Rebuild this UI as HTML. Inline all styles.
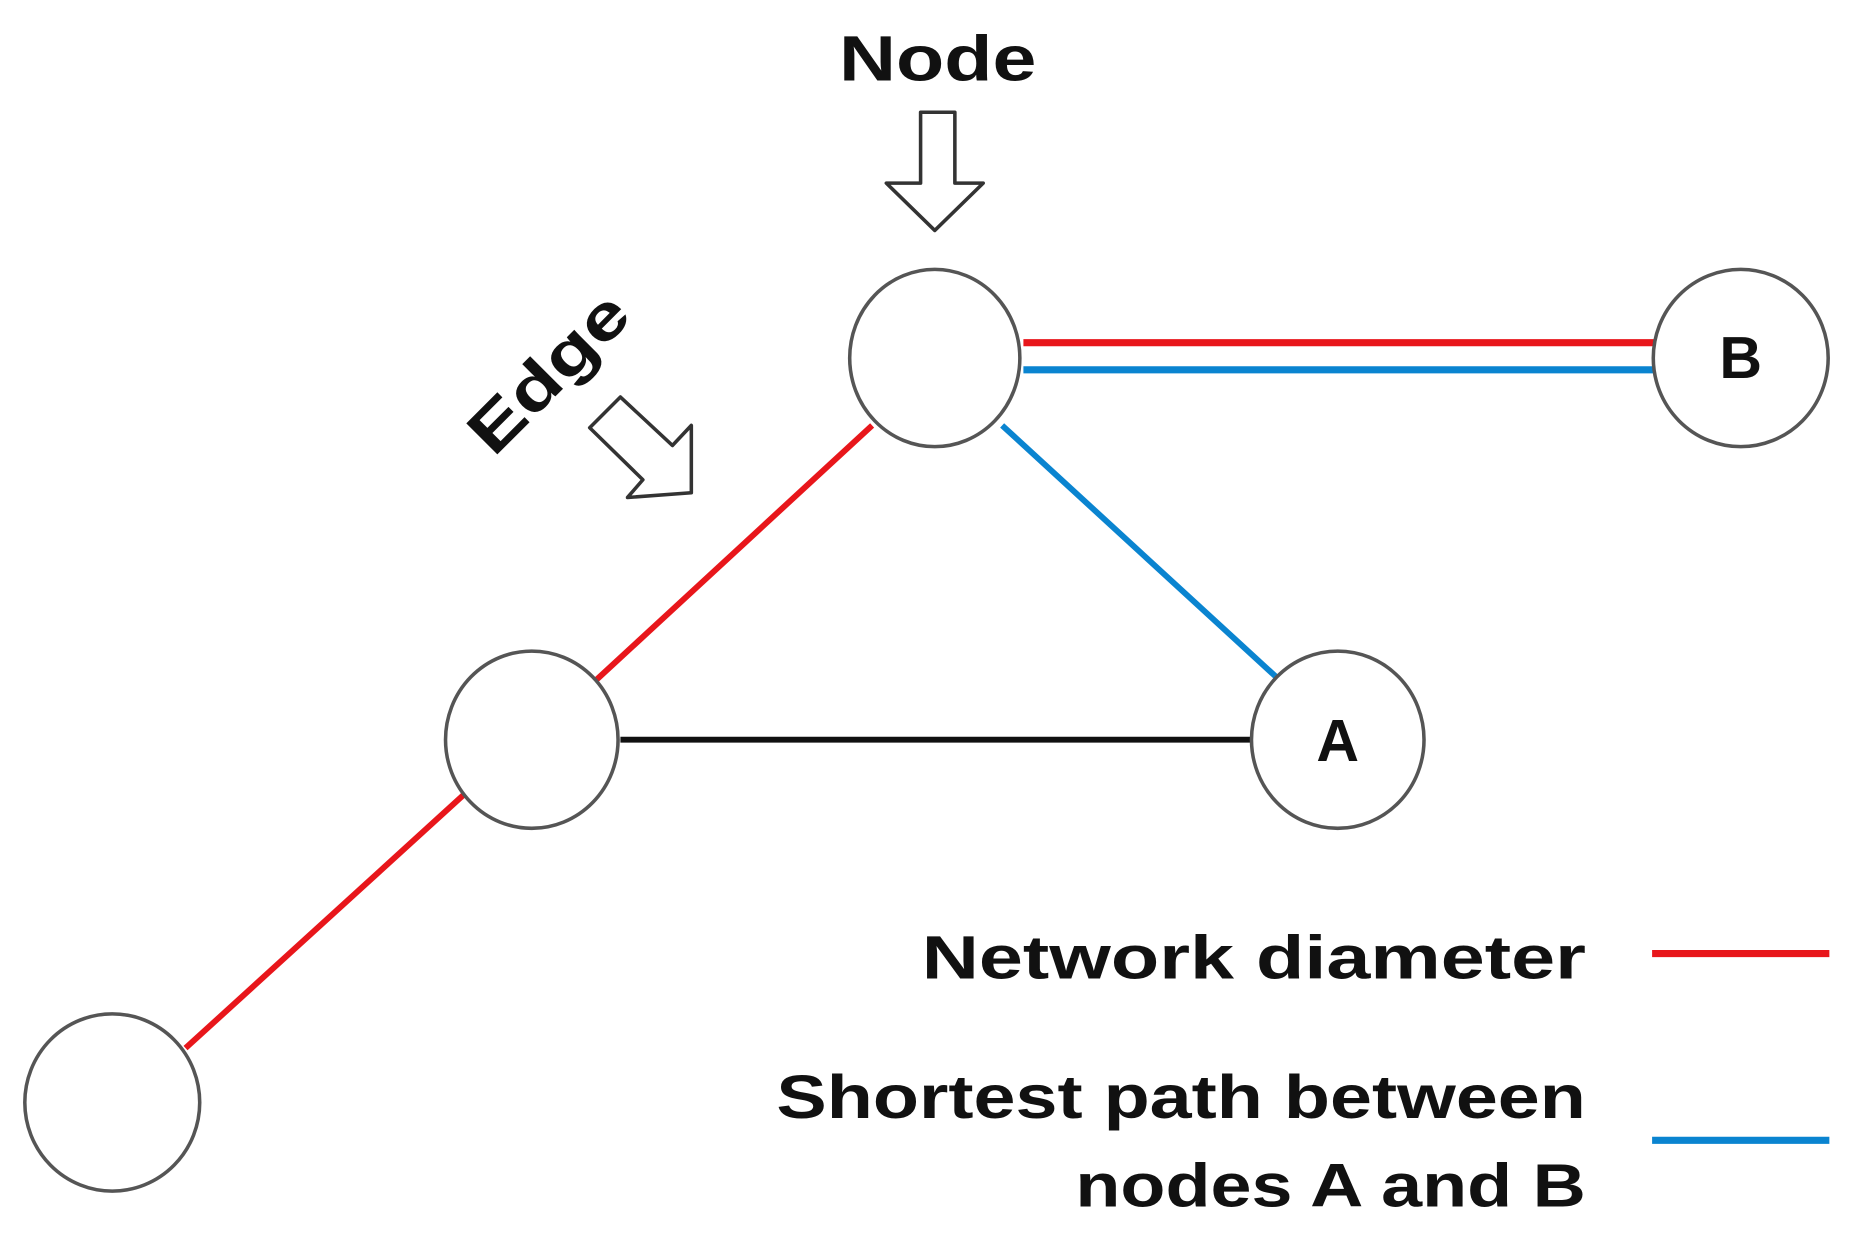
<!DOCTYPE html>
<html><head><meta charset="utf-8"><style>
html,body{margin:0;padding:0;background:#fff;}
svg{display:block;}
text{font-family:"Liberation Sans",sans-serif;font-weight:bold;fill:#111;}
</style></head><body>
<svg width="1853" height="1236" viewBox="0 0 1568 1046" preserveAspectRatio="none" xmlns="http://www.w3.org/2000/svg">
<rect width="1568" height="1046" fill="#fff"/>
<line x1="866" y1="290" x2="1400" y2="290" stroke="#e8161b" stroke-width="6"/>
<line x1="866" y1="313" x2="1400" y2="313" stroke="#0a84d0" stroke-width="6"/>
<line x1="738" y1="360" x2="505" y2="575" stroke="#e8161b" stroke-width="5"/>
<line x1="848" y1="360" x2="1080" y2="573" stroke="#0a84d0" stroke-width="5"/>
<line x1="525" y1="626" x2="1058" y2="626" stroke="#111" stroke-width="5"/>
<line x1="392" y1="673" x2="157" y2="887" stroke="#e8161b" stroke-width="5"/>
<g fill="#fff" stroke="#555" stroke-width="3">
<ellipse cx="791" cy="303" rx="72" ry="75"/>
<ellipse cx="1473" cy="303" rx="74" ry="75"/>
<ellipse cx="450" cy="626" rx="73" ry="75"/>
<ellipse cx="1132" cy="626" rx="73" ry="75"/>
<ellipse cx="95" cy="933" rx="74" ry="75"/>
</g>
<text x="1473" y="320" font-size="50" text-anchor="middle">B</text>
<text x="1132" y="644" font-size="50" text-anchor="middle">A</text>
<polygon points="779,95 808,95 808,155 832,155 791,195 750,155 779,155" fill="#fff" stroke="#333" stroke-width="3" stroke-linejoin="round"/>
<text x="710" y="68" font-size="54" textLength="167" lengthAdjust="spacingAndGlyphs">Node</text>
<polygon points="499,362 525,336 569,377 585,360 585,417 531,421 544,406" fill="#fff" stroke="#333" stroke-width="3" stroke-linejoin="round"/>
<text x="380" y="333" font-size="54" textLength="168" lengthAdjust="spacingAndGlyphs" transform="rotate(-45 465 315)">Edge</text>
<text x="780" y="828" font-size="52" textLength="562" lengthAdjust="spacingAndGlyphs">Network diameter</text>
<text x="657" y="946" font-size="52" textLength="685" lengthAdjust="spacingAndGlyphs">Shortest path between</text>
<text x="910" y="1021" font-size="52" textLength="432" lengthAdjust="spacingAndGlyphs">nodes A and B</text>
<line x1="1398" y1="807" x2="1548" y2="807" stroke="#e8161b" stroke-width="6"/>
<line x1="1398" y1="965" x2="1548" y2="965" stroke="#0a84d0" stroke-width="6"/>
</svg>
</body></html>
